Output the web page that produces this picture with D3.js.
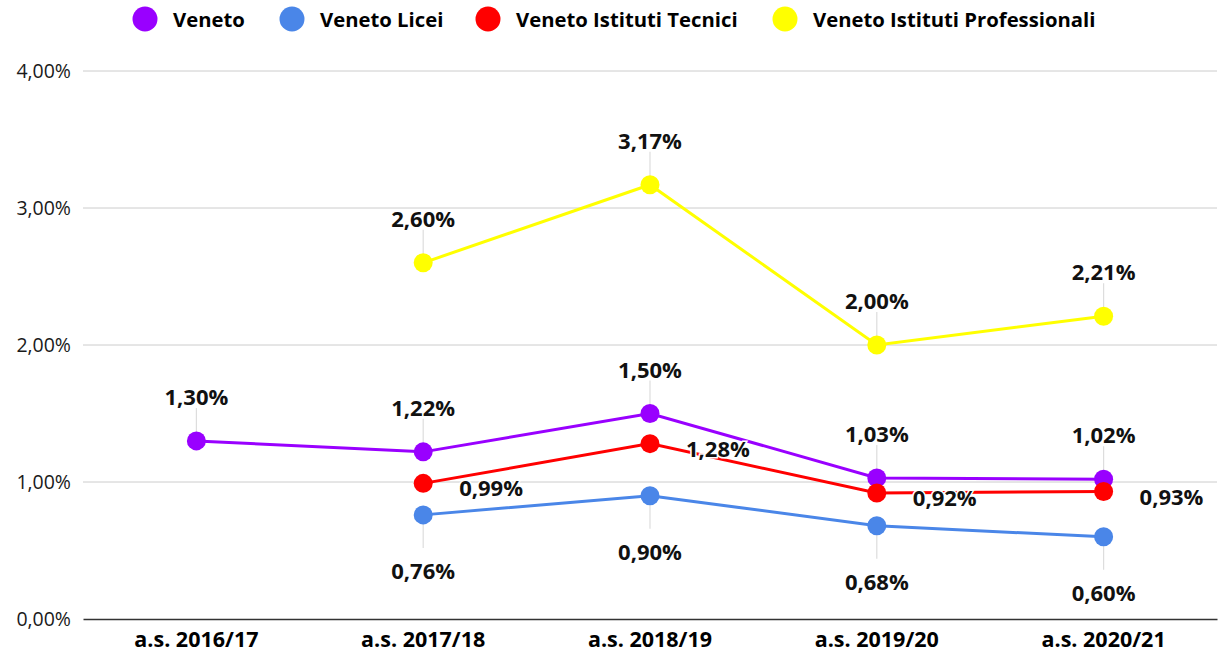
<!DOCTYPE html>
<html><head><meta charset="utf-8">
<script src="https://cdn.jsdelivr.net/npm/d3@7"></script>
<style>html,body{margin:0;padding:0;background:#fff;}svg{display:block;}</style>
</head><body>
<svg id="chart" width="1219" height="659"></svg>
<script>
const categories = ["a.s. 2016/17","a.s. 2017/18","a.s. 2018/19","a.s. 2019/20","a.s. 2020/21"];
const seriesNames = ["Veneto","Veneto Licei","Veneto Istituti Tecnici","Veneto Istituti Professionali"];
const seriesColors = ["#9900ff","#4a86e8","#ff0000","#ffff00"];
const veneto = [0.0130,0.0122,0.0150,0.0103,0.0102];
const licei = [null,0.0076,0.0090,0.0068,0.0060];
const tecnici = [null,0.0099,0.0128,0.0092,0.0093];
const professionali = [null,0.0260,0.0317,0.0200,0.0221];
const yTicks = [0,0.01,0.02,0.03,0.04];
const labelPos = ["above","below","right","above"];

const series = [veneto, licei, tecnici, professionali].map((vals,i)=>({
  name: seriesNames[i], color: seriesColors[i], pos: labelPos[i],
  values: vals.map((v,j)=>({cat:categories[j], v}))
}));

const locale = d3.formatLocale({decimal:",", thousands:".", grouping:[3], currency:["€",""]});
const fmt = locale.format(".2%");

const svg = d3.select("#chart");
const x = d3.scaleBand().domain(categories).range([83, 1217]);
const y = d3.scaleLinear().domain([0,0.04]).range([619, 71]);
const cx = c => x(c) + x.bandwidth()/2;

// gridlines
svg.append("g").selectAll("line").data(yTicks.filter(d=>d>0)).join("line")
  .attr("x1",83).attr("x2",1217).attr("y1",d=>y(d)).attr("y2",d=>y(d))
  .attr("stroke","#cccccc").attr("stroke-width",1);

// y axis labels
const yAxis = d3.axisLeft(y).tickValues(yTicks).tickFormat(fmt).tickSize(0).tickPadding(12);
const gy = svg.append("g").attr("transform","translate(83,0)").call(yAxis);
gy.select(".domain").remove();
gy.selectAll("text").attr("font-family","Open Sans").attr("font-size",19.5).attr("fill","#1a1a1a");

// x axis
const xAxis = d3.axisBottom(x).tickSize(0).tickPadding(13);
const gx = svg.append("g").attr("transform","translate(0,619)").call(xAxis);
gx.select(".domain").attr("stroke","#333").attr("stroke-width",1.5);
gx.selectAll("text").attr("font-family","Open Sans").attr("font-weight","bold").attr("font-size",21.5).attr("fill","#000");

// leader lines
const leaders = svg.append("g");
series.forEach(s=>{
  if (s.pos==="right") return;
  s.values.filter(d=>d.v!=null).forEach(d=>{
    const py = y(d.v);
    leaders.append("line").attr("x1",cx(d.cat)).attr("x2",cx(d.cat))
      .attr("y1",py).attr("y2", s.pos==="above" ? py-33 : py+33)
      .attr("stroke","#dddddd").attr("stroke-width",1.2);
  });
});

// lines
const line = d3.line().defined(d=>d.v!=null).x(d=>cx(d.cat)).y(d=>y(d.v));
const gl = svg.append("g");
series.forEach(s=>{
  gl.append("path").datum(s.values).attr("d",line)
    .attr("fill","none").attr("stroke",s.color).attr("stroke-width",3);
});
series.forEach(s=>{
  gl.append("g").selectAll("circle").data(s.values.filter(d=>d.v!=null)).join("circle")
    .attr("cx",d=>cx(d.cat)).attr("cy",d=>y(d.v)).attr("r",9.5).attr("fill",s.color);
});

// data labels
const gt = svg.append("g");
series.forEach(s=>{
  gt.append("g").selectAll("text").data(s.values.filter(d=>d.v!=null)).join("text")
    .attr("x", d=> s.pos==="right" ? cx(d.cat)+36 : cx(d.cat))
    .attr("y", d=> s.pos==="above" ? y(d.v)-45 : s.pos==="below" ? y(d.v)+55 : y(d.v)+4)
    .attr("dominant-baseline","central")
    .attr("text-anchor", s.pos==="right" ? "start" : "middle")
    .attr("font-family","Open Sans").attr("font-weight","bold").attr("font-size",22)
    .attr("fill","#111")
    .attr("stroke","#fff").attr("stroke-width",3).attr("paint-order","stroke")
    .text(d=>fmt(d.v));
});

// legend
const legendX = [145, 292, 488, 785];
const lg = svg.append("g");
series.forEach((s,i)=>{
  lg.append("circle").attr("cx",legendX[i]).attr("cy",19).attr("r",12.5).attr("fill",s.color);
  lg.append("text").attr("x",legendX[i]+28).attr("y",19).attr("dominant-baseline","central")
    .attr("font-family","Open Sans").attr("font-weight","bold").attr("font-size",20.3)
    .attr("fill","#000").text(s.name);
});
</script>
</body></html>
